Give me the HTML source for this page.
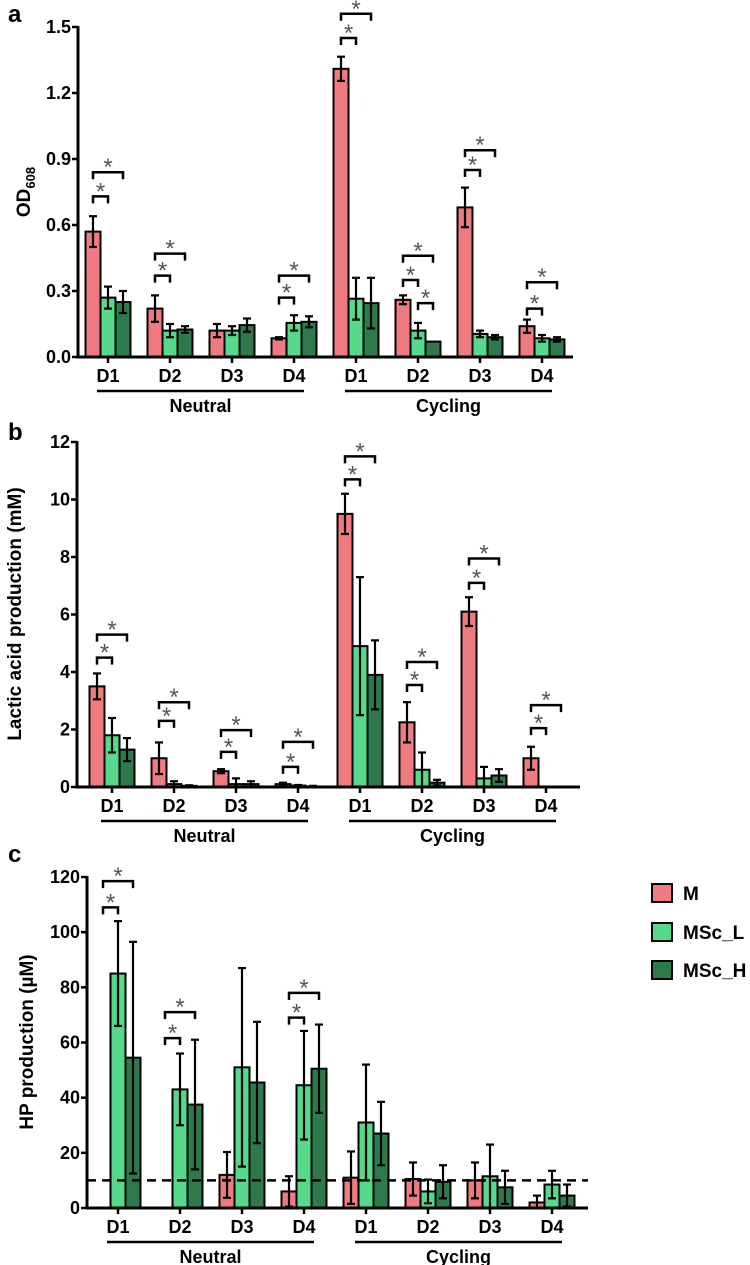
<!DOCTYPE html>
<html><head><meta charset="utf-8"><style>
html,body{margin:0;padding:0;background:#fff;}
svg{display:block;font-family:"Liberation Sans",Arial,sans-serif;}
</style></head><body>
<svg id="fig" width="750" height="1265" viewBox="0 0 750 1265" xmlns="http://www.w3.org/2000/svg">
<text x="8" y="22" font-size="24" font-weight="bold">a</text>
<text x="8" y="440" font-size="24" font-weight="bold">b</text>
<text x="8" y="862" font-size="24" font-weight="bold">c</text>
<text transform="translate(30,192) rotate(-90)" text-anchor="middle" font-size="19" font-weight="bold">OD<tspan font-size="13" dy="5">608</tspan></text>
<text transform="translate(21,614) rotate(-90)" text-anchor="middle" font-size="19" font-weight="bold">Lactic acid production (mM)</text>
<text transform="translate(33,1042) rotate(-90)" text-anchor="middle" font-size="19" font-weight="bold">HP production (µM)</text>
<g>
<rect x="652" y="884" width="20" height="18" fill="#ef7b80" stroke="#000" stroke-width="2"/>
<text x="683" y="900" font-size="19" font-weight="bold">M</text>
<rect x="652" y="923" width="20" height="18" fill="#56d98b" stroke="#000" stroke-width="2"/>
<text x="683" y="939" font-size="19" font-weight="bold">MSc_L</text>
<rect x="652" y="961" width="20" height="18" fill="#2f7a4c" stroke="#000" stroke-width="2"/>
<text x="683" y="977" font-size="19" font-weight="bold">MSc_H</text>
</g>
</svg>
<script>
var categories = ["D1","D2","D3","D4","D1","D2","D3","D4"];
var groupNames = ["Neutral","Cycling"];
var seriesNames = ["M","MSc_L","MSc_H"];
// Panel a: OD608
var aM  = [0.57,0.22,0.12,0.085,1.31,0.26,0.68,0.14];
var aMe = [0.07,0.06,0.03,0.005,0.055,0.02,0.09,0.03];
var aL  = [0.27,0.12,0.12,0.155,0.265,0.12,0.105,0.085];
var aLe = [0.05,0.03,0.02,0.035,0.095,0.035,0.015,0.015];
var aH  = [0.25,0.125,0.145,0.16,0.245,0.07,0.09,0.08];
var aHe = [0.05,0.015,0.03,0.025,0.115,0,0.01,0.01];
var aTicks = ["0.0","0.3","0.6","0.9","1.2","1.5"];
var aTickVals = [0,0.3,0.6,0.9,1.2,1.5];
var aBrackets = [[0,0,1,0.73],[0,0,2,0.84],[1,0,1,0.37],[1,0,2,0.47],[3,0,1,0.27],[3,0,2,0.37],[4,0,1,1.45],[4,0,2,1.56],[5,1,2,0.245],[5,0,1,0.35],[5,0,2,0.46],[6,0,1,0.85],[6,0,2,0.94],[7,0,1,0.22],[7,0,2,0.34]];
// Panel b: lactic acid
var bM  = [3.5,1.0,0.55,0.1,9.5,2.25,6.1,1.0];
var bMe = [0.45,0.55,0.07,0.05,0.7,0.7,0.5,0.4];
var bL  = [1.8,0.1,0.1,0.05,4.9,0.6,0.3,0];
var bLe = [0.6,0.1,0.2,0.02,2.4,0.6,0.4,0];
var bH  = [1.3,0.04,0.1,0.02,3.9,0.15,0.4,0];
var bHe = [0.4,0.02,0.1,0.02,1.2,0.1,0.22,0];
var bTicks = ["0","2","4","6","8","10","12"];
var bTickVals = [0,2,4,6,8,10,12];
var bBrackets = [[0,0,1,4.5],[0,0,2,5.3],[1,0,1,2.3],[1,0,2,2.95],[2,0,1,1.22],[2,0,2,1.98],[3,0,1,0.7],[3,0,2,1.57],[4,0,1,10.7],[4,0,2,11.5],[5,0,1,3.55],[5,0,2,4.35],[6,0,1,7.1],[6,0,2,7.95],[7,0,1,2.05],[7,0,2,2.85]];
// Panel c: HP production
var cM  = [0,0,12,6,11,10.5,10,2];
var cMe = [0,0,8.3,5.5,9.5,6,6.5,2.5];
var cL  = [85,43,51,44.5,31,6,11.5,8.5];
var cLe = [19,13,36,19.7,21,4.3,11.5,5];
var cH  = [54.5,37.5,45.5,50.5,27,9.5,7.5,4.5];
var cHe = [42,23.5,22,16,11.5,6,6,4];
var cTicks = ["0","20","40","60","80","100","120"];
var cTickVals = [0,20,40,60,80,100,120];
var cBrackets = [[0,0,1,109],[0,0,2,118.5],[1,0,1,61.6],[1,0,2,71],[3,0,1,69],[3,0,2,78]];
var cThreshold = 10;

var NS = "http://www.w3.org/2000/svg";
var svg = document.getElementById("fig");
var COLORS = ["#ef7b80","#56d98b","#2f7a4c"];
function mk(tag, attrs, parent){
  var e = document.createElementNS(NS, tag);
  for (var k in attrs) e.setAttribute(k, attrs[k]);
  (parent||svg).appendChild(e);
  return e;
}
function drawPanel(p, cfg, vals, errs, ticks, tickVals, brackets, threshold){
  var g = mk("g", {});
  
  
  function y(v){ return cfg.y0 - (v / cfg.max) * (cfg.y0 - cfg.yTop); }
  function x(i){ return cfg.x1 + cfg.step * i; }
  var bw = 15;
  for (var s = 0; s < 3; s++) {
    for (var i = 0; i < categories.length; i++) {
      var v = vals[s][i];
      var cx = x(i) + (s - 1) * bw;
      if (v > 0) {
        var r = mk("rect", {x: cx - bw/2, y: y(v), width: bw, height: cfg.y0 - y(v), fill: COLORS[s], stroke: "#000", "stroke-width": 2}, g);
        
        
      }
      var e = errs[s][i];
      if (e > 0) {
        var eg = mk("g", {stroke: "#000", "stroke-width": 2.2}, g);
        
        
        var lo = Math.max(0, v - e), hi = v + e;
        mk("line", {x1: cx, x2: cx, y1: y(lo), y2: y(hi)}, eg);
        mk("line", {x1: cx - 4, x2: cx + 4, y1: y(hi), y2: y(hi)}, eg);
        mk("line", {x1: cx - 4, x2: cx + 4, y1: y(lo), y2: y(lo)}, eg);
      }
    }
  }
  if (threshold != null) {
    var d = mk("line", {x1: cfg.ax, x2: cfg.xEnd, y1: y(threshold), y2: y(threshold), stroke: "#000", "stroke-width": 2.5, "stroke-dasharray": "9,6"}, g);
    
    
  }
  var ya = mk("line", {x1: cfg.ax, x2: cfg.ax, y1: cfg.yTop - 1, y2: cfg.y0 + 1.5, stroke: "#000", "stroke-width": 3}, g);
  
  
  var xa = mk("line", {x1: cfg.ax - 1.5, x2: cfg.xEnd, y1: cfg.y0, y2: cfg.y0, stroke: "#000", "stroke-width": 3}, g);
  
  
  for (var t = 0; t < ticks.length; t++) {
    var ty = y(tickVals[t]);
    mk("line", {x1: cfg.ax - 6, x2: cfg.ax, y1: ty, y2: ty, stroke: "#000", "stroke-width": 2.5}, g);
    var tl = mk("text", {x: cfg.ax - 7, y: ty + 6, "text-anchor": "end", "font-size": 18, "font-weight": "bold"}, g);
    tl.textContent = ticks[t];
    
    
  }
  for (var i = 0; i < categories.length; i++) {
    mk("line", {x1: x(i), x2: x(i), y1: cfg.y0, y2: cfg.y0 + 6, stroke: "#000", "stroke-width": 2.5}, g);
    var cl = mk("text", {x: x(i), y: cfg.y0 + 25, "text-anchor": "middle", "font-size": 18, "font-weight": "bold"}, g);
    cl.textContent = categories[i];
    
    
  }
  for (var k = 0; k < 2; k++) {
    var xs = x(k * 4) - 11, xe = x(k * 4 + 3) + 10;
    var gl = mk("line", {x1: xs, x2: xe, y1: cfg.y0 + 34, y2: cfg.y0 + 34, stroke: "#000", "stroke-width": 2.5}, g);
    
    
    var gt = mk("text", {x: (xs + xe) / 2, y: cfg.y0 + 55, "text-anchor": "middle", "font-size": 18, "font-weight": "bold"}, g);
    gt.textContent = groupNames[k];
    
    
  }
  for (var b = 0; b < brackets.length; b++) {
    var br = brackets[b];
    var xa1 = x(br[0]) + (br[1] - 1) * bw, xa2 = x(br[0]) + (br[2] - 1) * bw;
    var by = y(br[3]);
    var bg = mk("g", {}, g);
    
    
    mk("path", {d: "M" + xa1 + "," + (by + 7) + "V" + by + "H" + xa2 + "V" + (by + 7), fill: "none", stroke: "#000", "stroke-width": 2.5}, bg);
    var st = mk("text", {x: (xa1 + xa2) / 2, y: by + 3, "text-anchor": "middle", "font-size": 24, fill: "#555"}, bg);
    st.textContent = "*";
  }
}
drawPanel("a", {ax: 78, xEnd: 573, x1: 108, step: 62, y0: 357, yTop: 27, max: 1.5}, [aM,aL,aH], [aMe,aLe,aHe], aTicks, aTickVals, aBrackets, null);
drawPanel("b", {ax: 77, xEnd: 580, x1: 112, step: 62, y0: 787, yTop: 442, max: 12}, [bM,bL,bH], [bMe,bLe,bHe], bTicks, bTickVals, bBrackets, null);
drawPanel("c", {ax: 87, xEnd: 588, x1: 118, step: 62, y0: 1208, yTop: 877, max: 120}, [cM,cL,cH], [cMe,cLe,cHe], cTicks, cTickVals, cBrackets, cThreshold);
</script>
</body></html>
